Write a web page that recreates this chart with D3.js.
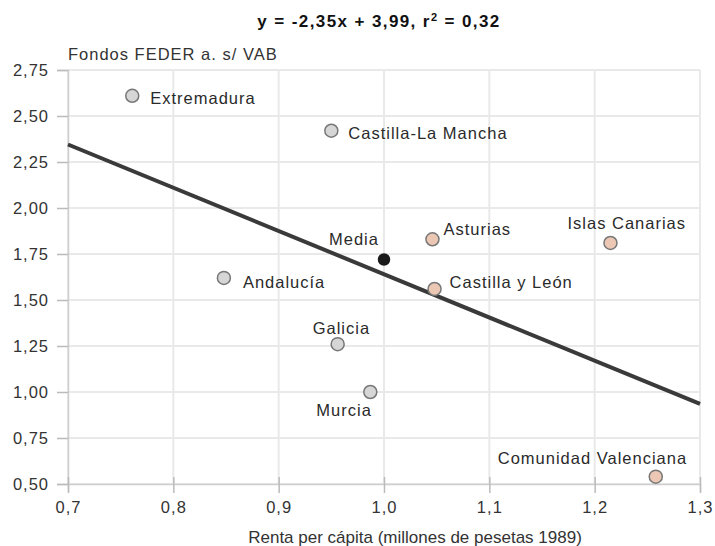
<!DOCTYPE html>
<html><head><meta charset="utf-8">
<script src="https://cdn.jsdelivr.net/npm/d3@7"></script>
<style>body{margin:0;background:#fff}svg{font-family:"Liberation Sans",Arial,sans-serif}</style>
</head><body><svg id="c" width="715" height="546"></svg>
<script>
const regions = ["Extremadura","Castilla-La Mancha","Media","Asturias","Islas Canarias","Andalucía","Castilla y León","Galicia","Murcia","Comunidad Valenciana"];
const renta = [0.761,0.950,1.000,1.046,1.215,0.848,1.048,0.956,0.987,1.258];
const feder = [2.61,2.42,1.72,1.83,1.81,1.62,1.56,1.26,1.00,0.54];
const groups = ["gris","gris","media","rosa","rosa","gris","rosa","gris","gris","rosa"];
const xTicks = [0.7,0.8,0.9,1.0,1.1,1.2,1.3];
const yTicks = [0.5,0.75,1.0,1.25,1.5,1.75,2.0,2.25,2.5,2.75];
const slope = -2.35, intercept = 3.99;

const svg = d3.select("#c");
const x = d3.scaleLinear().domain([0.7,1.3]).range([68,700]);
const y = d3.scaleLinear().domain([0.5,2.75]).range([484,70]);
const fmtX = d => d3.format(".1f")(d).replace(".",",");
const fmtY = d => d3.format(".2f")(d).replace(".",",");

// grid
svg.append("g").selectAll("line").data(yTicks).join("line")
  .attr("x1",x(0.7)).attr("x2",x(1.3)).attr("y1",d=>y(d)).attr("y2",d=>y(d))
  .attr("stroke","#e9e9e9").attr("stroke-width",2);
svg.append("g").selectAll("line").data(xTicks).join("line")
  .attr("y1",y(0.5)).attr("y2",y(2.75)).attr("x1",d=>x(d)).attr("x2",d=>x(d))
  .attr("stroke","#e9e9e9").attr("stroke-width",2);

// axes
const yAxis = svg.append("g").attr("transform",`translate(${x(0.7)},0)`)
  .call(d3.axisLeft(y).tickValues(yTicks).tickFormat(fmtY).tickSize(11).tickPadding(8));
const xAxis = svg.append("g").attr("transform",`translate(0,${y(0.5)})`)
  .call(d3.axisBottom(x).tickValues(xTicks).tickFormat(fmtX).tickSize(8));
[yAxis,xAxis].forEach(a=>{
  a.select(".domain").attr("stroke","#cfcfcf").attr("stroke-width",1.5);
  a.selectAll(".tick line").attr("stroke","#bbbbbb").attr("stroke-width",1.5);
  a.selectAll("text").attr("font-size",16.5).attr("letter-spacing",1).attr("fill","#333")
    .attr("font-family","Liberation Sans, Arial, sans-serif");
});
xAxis.selectAll(".tick line").attr("y1",-7).attr("y2",9);
xAxis.selectAll(".tick text").attr("y",29).attr("dy",0);
yAxis.selectAll(".tick text").attr("dy","0.35em");

// regression line
svg.append("line")
  .attr("x1",x(0.7)).attr("y1",y(slope*0.7+intercept))
  .attr("x2",x(1.3)).attr("y2",y(slope*1.3+intercept))
  .attr("stroke","#3a3a3a").attr("stroke-width",4);

// points
const data = regions.map((r,i)=>({r,x:renta[i],y:feder[i],g:groups[i]}));
svg.append("g").selectAll("circle").data(data).join("circle")
  .attr("cx",d=>x(d.x)).attr("cy",d=>y(d.y))
  .attr("r",d=>d.g==="media"?5.5:6.5)
  .attr("fill",d=>d.g==="media"?"#1a1a1a":d.g==="rosa"?"#ecc8b4":"#d6d6d6")
  .attr("stroke",d=>d.g==="media"?"#1a1a1a":"#777")
  .attr("stroke-width",1.5);

// labels (offset from point, start anchor)
const lab = {
  "Extremadura":[18,8],
  "Castilla-La Mancha":[17,8],
  "Media":[-55,-15],
  "Asturias":[11,-4],
  "Islas Canarias":[-43,-14],
  "Andalucía":[19,10],
  "Castilla y León":[15,-1],
  "Galicia":[-25,-10],
  "Murcia":[-54,24],
  "Comunidad Valenciana":[-158,-13]
};
svg.append("g").selectAll("text").data(data).join("text")
  .attr("x",d=>x(d.x)+lab[d.r][0]).attr("y",d=>y(d.y)+lab[d.r][1])
  .attr("font-size",16.5).attr("letter-spacing",1).attr("fill","#2a2a2a").text(d=>d.r);

// titles
const t = svg.append("text").attr("x",379).attr("y",27).attr("text-anchor","middle")
  .attr("font-size",17).attr("letter-spacing",1.4).attr("font-weight","bold").attr("fill","#111");
t.append("tspan").text("y = -2,35x + 3,99, r");
t.append("tspan").attr("dy",-6).attr("font-size",11).text("2");
t.append("tspan").attr("dy",6).text(" = 0,32");
svg.append("text").attr("x",68).attr("y",60).attr("font-size",16.5).attr("letter-spacing",1).attr("fill","#333").text("Fondos FEDER a. s/ VAB");
svg.append("text").attr("x",415).attr("y",543).attr("text-anchor","middle").attr("font-size",17).attr("fill","#333")
  .text("Renta per cápita (millones de pesetas 1989)");
</script></body></html>
